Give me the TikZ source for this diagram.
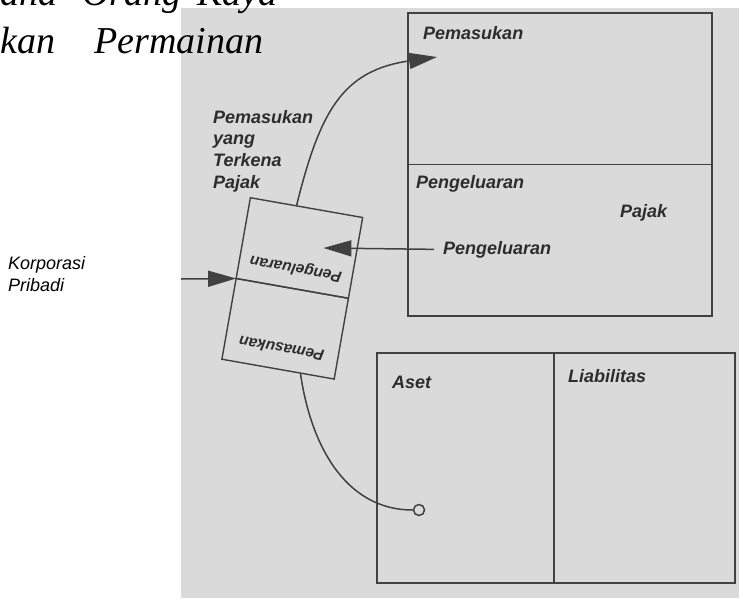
\documentclass[tikz,border=0pt]{standalone}
\usepackage{fontspec}
\setmainfont{Liberation Serif}
\newfontfamily\scanfont{Liberation Sans}
\usetikzlibrary{arrows.meta,positioning,calc}
\definecolor{scan}{RGB}{218,218,218}
\definecolor{ink}{RGB}{45,45,45}
\definecolor{rule}{RGB}{65,65,65}
\tikzset{
  acct/.style = {draw=rule, line width=1.4pt, inner sep=0pt, outer sep=0pt},
  half/.style = {acct, rotate=-10, minimum width=114pt, minimum height=82pt},
  head/.style = {font=\scanfont\bfseries\itshape\fontsize{18}{21.7}\selectfont,
                 text=ink, inner sep=0pt, align=left},
  flip/.style = {font=\scanfont\bfseries\itshape\fontsize{15.5}{18}\selectfont,
                 text=ink, inner sep=0pt, rotate=170},
  note/.style = {font=\scanfont\itshape\fontsize{18}{22}\selectfont,
                 inner sep=0pt, align=left},
  book/.style = {font=\itshape\fontsize{38}{44}\selectfont, inner sep=0pt,
                 anchor=base west},
  dot/.style  = {circle, draw=rule, line width=1.5pt, fill=scan, inner sep=0pt,
                 minimum size=11pt},
  ar/.style   = {-{Triangle[length=28pt,width=16pt]}, draw=rule, line width=1.5pt},
  ln/.style   = {draw=rule, line width=1.5pt}
}

\begin{document}
\begin{tikzpicture}[x=1pt,y=1pt]
  \useasboundingbox (0,0) rectangle (739,-598);
  \fill[scan] (181,-8) rectangle (739,-598);

  % book text behind the scan
  \node[book] (w1) at (0,-5) {ana};
  \node[book] (w2) at (82,-5) {Orang};
  \node[book] (w3) at (197,-5) {Kaya};
  \node[book] (w4) at (0,-53) {kan};
  \node[book] (w5) at (94,-53) {Permainan};

  % accounts
  \node[acct, minimum width=304pt, minimum height=151.5pt] (masukan) at (560,-88.75) {};
  \node[acct, minimum width=304pt, minimum height=151.5pt, below=0pt of masukan] (keluaran) {};
  \node[acct, minimum width=177pt, minimum height=230pt] (aset) at (465.5,-468) {};
  \node[acct, minimum width=181pt, minimum height=230pt, right=0pt of aset] (liabilitas) {};

  % tilted card
  \node[half] (keluar) at (299.4,-248) {};
  \node[half, below=0pt of keluar] (masuk) {};
  \node[flip] (tkeluar) at ($(keluar.center)!0.5!(keluar.south)$) {Pengeluaran};
  \node[flip] (tmasuk) at ($(masuk.center)!0.5!(masuk.south)$) {Pemasukan};

  \node[head, anchor=base west] (hmasukan) at (423,-39) {Pemasukan};
  \node[head, anchor=base west] (hkeluaran) at (416,-188) {Pengeluaran};
  \node[head, anchor=base west] (hpajak) at (620,-217) {Pajak};
  \node[head, anchor=base west] (lblkeluar) at (443,-254) {Pengeluaran};
  \node[head, anchor=base west] (haset) at (392,-388) {Aset};
  \node[head, anchor=base west] (hliab) at (568,-382) {Liabilitas};
  \node[head, anchor=north west] (kena) at (213,-110) {Pemasukan\\yang\\Terkena\\Pajak};
  \node[note, anchor=north west] (korporasi) at (8,-256) {Korporasi\\Pribadi};
  \node[dot] (titik) at (419,-510) {};

  \coordinate (kiri) at (181,-279);
  \coordinate (ujungatas) at ([shift={(29,-44)}]masukan.north west);
  \coordinate (ujungtengah) at ([xshift=24pt]keluar.center);
  \draw[ar] (kiri) -- (keluar.south west);
  \draw[ar] ([xshift=-9pt]lblkeluar.west) -- (ujungtengah);
  \draw[ar] (keluar.104) to[out=76, in=188, looseness=1.2] (ujungatas);
  \draw[ln] (masuk.-61) to[out=-82, in=180] (titik);
\end{tikzpicture}
\end{document}
